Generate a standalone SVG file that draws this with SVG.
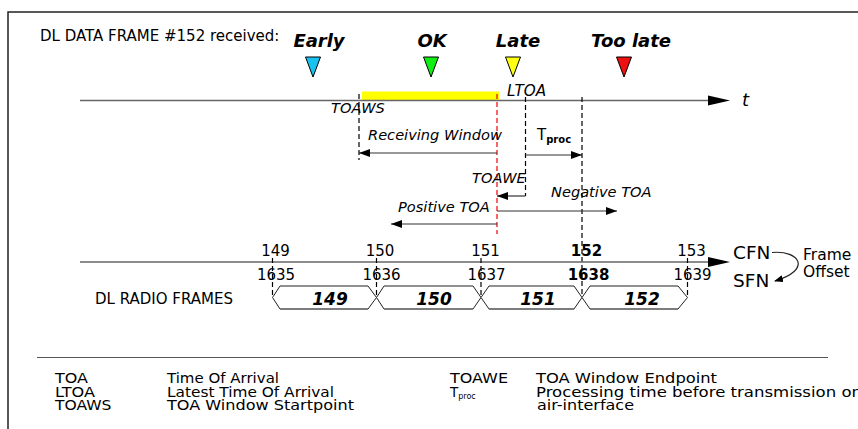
<svg xmlns="http://www.w3.org/2000/svg" width="858" height="429" viewBox="0 0 858 429">
<style>
.t{font-family:"DejaVu Sans","Liberation Sans",sans-serif;font-size:14.6px;fill:#000}
.it{font-style:italic}
.bi{font-style:italic;font-weight:bold}
.b{font-weight:bold}
.big{font-size:18px}
.num{text-anchor:middle;font-size:15px}
.lg{font-size:13.5px}
.dash{stroke:#000;stroke-width:1.2;stroke-dasharray:5 3;fill:none}
.axis{stroke:#666;stroke-width:1.6;fill:none}
.arr{stroke:#333;stroke-width:1.2;fill:none;marker-end:url(#ah)}
.tri{stroke:#000;stroke-width:1}
.frm{fill:#fff;stroke:#222;stroke-width:1}
.frmb{stroke:#777;stroke-width:1.6;fill:none}
.fl{font-size:17px;text-anchor:middle}
</style>
<defs>
<marker id="ah" markerWidth="11" markerHeight="8" refX="11" refY="4" orient="auto" markerUnits="userSpaceOnUse">
<path d="M0,0 L11,4 L0,8 z" fill="#000"/>
</marker>
<marker id="ahs" markerWidth="9" markerHeight="7" refX="8" refY="3.5" orient="auto" markerUnits="userSpaceOnUse">
<path d="M0,0 L9,3.5 L0,7 z" fill="#000"/>
</marker>
</defs>
<rect x="0" y="0" width="858" height="429" fill="#fff"/>
<g id="border"><path d="M8,429 V12 H858" fill="none" stroke="#222" stroke-width="1.5"/></g>

<g id="title"><text class="t" x="40" y="41" style="font-size:15px">DL DATA FRAME #152 received:</text></g>

<g id="early"><text class="t bi big" x="319" y="47" text-anchor="middle">Early</text><polygon class="tri" points="305.5,57 320.5,57 313,77" fill="#19c3f0"/></g>
<g id="ok"><text class="t bi big" x="432" y="47" text-anchor="middle">OK</text><polygon class="tri" points="423.5,57 438.5,57 431,77" fill="#11ee11"/></g>
<g id="late"><text class="t bi big" x="518" y="47" text-anchor="middle">Late</text><polygon class="tri" points="505.5,57 520.5,57 513,77" fill="#ffff11"/></g>
<g id="toolate"><text class="t bi big" x="631" y="47" text-anchor="middle">Too late</text><polygon class="tri" points="616.5,57 631.5,57 624,77" fill="#ee1111"/></g>

<g id="receiving-window-bar"><rect x="362" y="91.5" width="137" height="9.5" fill="#ffff00"/></g>

<g id="time-axis">
<line class="axis" x1="80" y1="100.5" x2="710" y2="100.5"/>
<polygon points="708,95.5 730,100.5 708,105.5" fill="#000"/>
<text class="t it big" x="742" y="106">t</text>
</g>

<g id="markers-time">
<line class="dash" x1="359" y1="94" x2="359" y2="160"/>
<line class="dash" x1="497" y1="94" x2="497" y2="234" style="stroke:#e00"/>
<line class="dash" x1="525.5" y1="97" x2="525.5" y2="196"/>
<line class="dash" x1="582" y1="97" x2="582" y2="297"/>
<text class="t it" x="331" y="113">TOAWS</text>
<text class="t it" x="507" y="96" style="font-size:15.2px">LTOA</text>
<text class="t it" x="472" y="183">TOAWE</text>
</g>

<g id="connectors">
<line class="arr" x1="497" y1="153" x2="359" y2="153"/>
<line class="arr" x1="525.5" y1="155" x2="582" y2="155"/>
<line class="arr" x1="525.5" y1="196" x2="497" y2="196"/>
<line class="arr" x1="497" y1="211" x2="617" y2="211"/>
<line class="arr" x1="497" y1="224" x2="391" y2="224"/>
<path d="M772,252.5 C800,250 812,270 775,281" fill="none" stroke="#222" stroke-width="1.2" marker-end="url(#ahs)"/>
</g>

<g id="arrow-labels">
<text class="t it" x="368" y="140">Receiving Window</text>
<text class="t" x="537" y="140" style="font-size:15px">T<tspan class="b" font-size="10" dy="3">proc</tspan></text>
<text class="t it" x="551" y="197">Negative TOA</text>
<text class="t it" x="398" y="212">Positive TOA</text>
</g>

<g id="cfn-axis">
<line class="axis" x1="80" y1="262" x2="710" y2="262"/>
<polygon points="708,257 730,262 708,267" fill="#000"/>
<line class="dash" x1="272.5" y1="258" x2="272.5" y2="297"/>
<line class="dash" x1="376.5" y1="258" x2="376.5" y2="297"/>
<line class="dash" x1="481" y1="258" x2="481" y2="297"/>
<line class="dash" x1="687.5" y1="258" x2="687.5" y2="297"/>
<text class="t num" x="275.5" y="256">149</text>
<text class="t num" x="380" y="256">150</text>
<text class="t num" x="485.5" y="256">151</text>
<text class="t num b" x="586.5" y="256">152</text>
<text class="t num" x="691.5" y="256">153</text>
<text class="t num" x="276" y="280">1635</text>
<text class="t num" x="381.5" y="280">1636</text>
<text class="t num" x="486.5" y="280">1637</text>
<text class="t num b" x="588.5" y="280">1638</text>
<text class="t num" x="692.5" y="280">1639</text>
</g>

<g id="cfn-sfn">
<text class="t" x="733" y="259" style="font-size:18.5px">CFN</text>
<text class="t" x="733" y="287" style="font-size:18.5px">SFN</text>
<text class="t" x="803" y="260" style="font-size:15.5px">Frame</text>
<text class="t" x="803" y="277" style="font-size:15.5px">Offset</text>
</g>

<g id="radio-frames">
<text class="t" x="95" y="304" style="font-size:15px">DL RADIO FRAMES</text>
<g id="frame-149"><polygon class="frm" points="272.5,297.5 280,286 368,286 376.5,297.5 368,309 280,309"/><line class="frmb" x1="280" y1="309" x2="368" y2="309"/><text class="t bi fl" x="330" y="305">149</text></g>
<g id="frame-150"><polygon class="frm" points="376.5,297.5 384,286 473,286 481,297.5 473,309 384,309"/><line class="frmb" x1="384" y1="309" x2="473" y2="309"/><text class="t bi fl" x="434" y="305">150</text></g>
<g id="frame-151"><polygon class="frm" points="481,297.5 489,286 574,286 582,297.5 574,309 489,309"/><line class="frmb" x1="489" y1="309" x2="574" y2="309"/><text class="t bi fl" x="538" y="305">151</text></g>
<g id="frame-152"><polygon class="frm" points="582,297.5 590,286 678,286 687.5,297.5 678,309 590,309"/><line class="frmb" x1="590" y1="309" x2="678" y2="309"/><text class="t bi fl" x="642" y="305">152</text></g>
</g>

<g id="legend">
<line x1="37" y1="357.5" x2="828" y2="357.5" stroke="#555" stroke-width="1.2"/>
<text class="t lg" x="55" y="383" textLength="33" lengthAdjust="spacingAndGlyphs">TOA</text>
<text class="t lg" x="55" y="396.5" textLength="40" lengthAdjust="spacingAndGlyphs">LTOA</text>
<text class="t lg" x="55" y="410" textLength="56.5" lengthAdjust="spacingAndGlyphs">TOAWS</text>
<text class="t lg" x="167" y="383" textLength="112" lengthAdjust="spacingAndGlyphs">Time Of Arrival</text>
<text class="t lg" x="167" y="396.5" textLength="167" lengthAdjust="spacingAndGlyphs">Latest Time Of Arrival</text>
<text class="t lg" x="167" y="410" textLength="187" lengthAdjust="spacingAndGlyphs">TOA Window Startpoint</text>
<text class="t lg" x="450" y="383" textLength="58" lengthAdjust="spacingAndGlyphs">TOAWE</text>
<text class="t lg" x="450" y="396.5">T<tspan font-size="8" dy="2.5">proc</tspan></text>
<text class="t lg" x="536" y="383" textLength="181" lengthAdjust="spacingAndGlyphs">TOA Window Endpoint</text>
<text class="t lg" x="536" y="396.5" textLength="326" lengthAdjust="spacingAndGlyphs">Processing time before transmission on</text>
<text class="t lg" x="537" y="410" textLength="97" lengthAdjust="spacingAndGlyphs">air-interface</text>
</g>
</svg>
